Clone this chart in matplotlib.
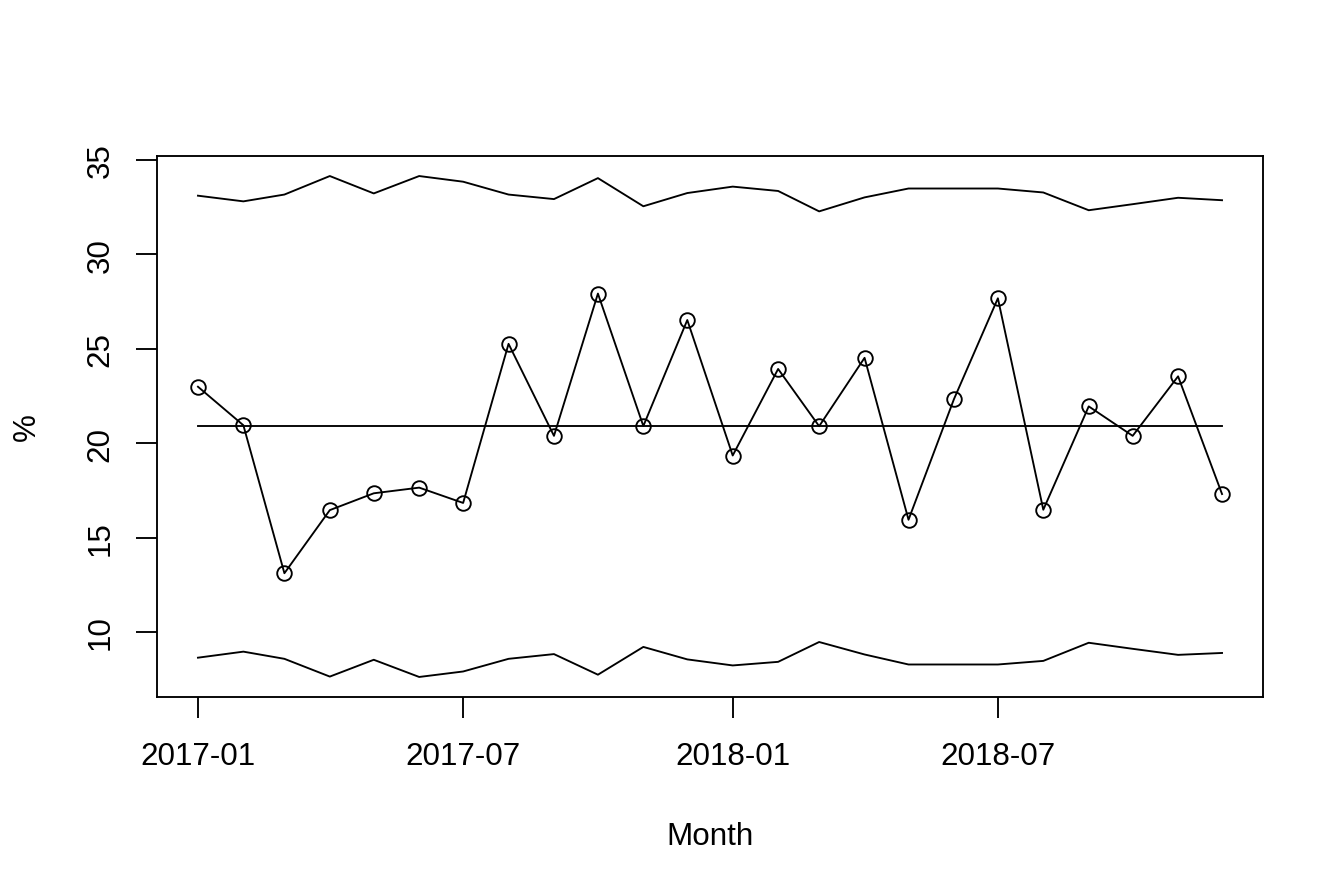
import matplotlib
matplotlib.use("Agg")
import matplotlib.pyplot as plt
import matplotlib.dates as mdates
import numpy as np
import datetime as dt

plt.rcParams['font.family'] = ['Liberation Sans', 'DejaVu Sans']

months = [dt.date(2017 + (i // 12), i % 12 + 1, 1) for i in range(24)]
pct = [22.98, 20.94, 13.11, 16.45, 17.34, 17.64, 16.83, 25.25, 20.38, 27.91, 20.90, 26.51,
       19.34, 23.92, 20.89, 24.51, 15.94, 22.32, 27.66, 16.47, 21.94, 20.38, 23.53, 17.30]
center = 20.89
ucl = [33.09, 32.79, 33.15, 34.13, 33.21, 34.13, 33.83, 33.15, 32.91, 34.02, 32.53, 33.23,
       33.57, 33.34, 32.26, 33.00, 33.47, 33.47, 33.47, 33.26, 32.32, 32.64, 32.98, 32.85]
lcl = [8.64, 8.96, 8.58, 7.64, 8.53, 7.62, 7.91, 8.58, 8.83, 7.74, 9.21, 8.55,
       8.23, 8.42, 9.47, 8.81, 8.28, 8.28, 8.28, 8.47, 9.43, 9.11, 8.79, 8.89]
xtick_dates = [dt.date(2017, 1, 1), dt.date(2017, 7, 1), dt.date(2018, 1, 1), dt.date(2018, 7, 1)]
xtick_labels = ["2017-01", "2017-07", "2018-01", "2018-07"]
yticks = [10, 15, 20, 25, 30, 35]

W, H = 1344, 895
fig = plt.figure(figsize=(W / 100, H / 100), dpi=100)
ax = fig.add_axes([157 / W, 1 - 698 / H, (1263 - 157) / W, (698 - 157) / H])

lw = 1.35
x = mdates.date2num(months)
ax.plot(x, pct, color='black', lw=lw, marker='o', markersize=10.5,
        markerfacecolor='none', markeredgecolor='black', markeredgewidth=lw)
ax.plot([x[0], x[-1]], [center, center], color='black', lw=lw)
ax.plot(x, ucl, color='black', lw=lw)
ax.plot(x, lcl, color='black', lw=lw)

# R-style 4% axis extension
xr = x[-1] - x[0]
ax.set_xlim(x[0] - 0.04 * xr, x[-1] + 0.04 * xr)
allv = pct + ucl + lcl
yr = max(allv) - min(allv)
ax.set_ylim(min(allv) - 0.04 * yr, max(allv) + 0.04 * yr)

ax.set_xticks(mdates.date2num(xtick_dates))
ax.set_xticklabels(xtick_labels)
ax.set_yticks(yticks)
ax.set_yticklabels([str(v) for v in yticks], rotation=90, va='center')

fs = 22.6
for s in ax.spines.values():
    s.set_linewidth(lw)
ax.tick_params(axis='both', length=15, width=lw, labelsize=fs, direction='out')
ax.tick_params(axis='x', pad=17)
ax.tick_params(axis='y', pad=15)

ax.set_xlabel("Month", fontsize=fs, labelpad=36)
ax.set_ylabel("%", fontsize=fs, labelpad=31)

fig.savefig("out.png", dpi=100)
